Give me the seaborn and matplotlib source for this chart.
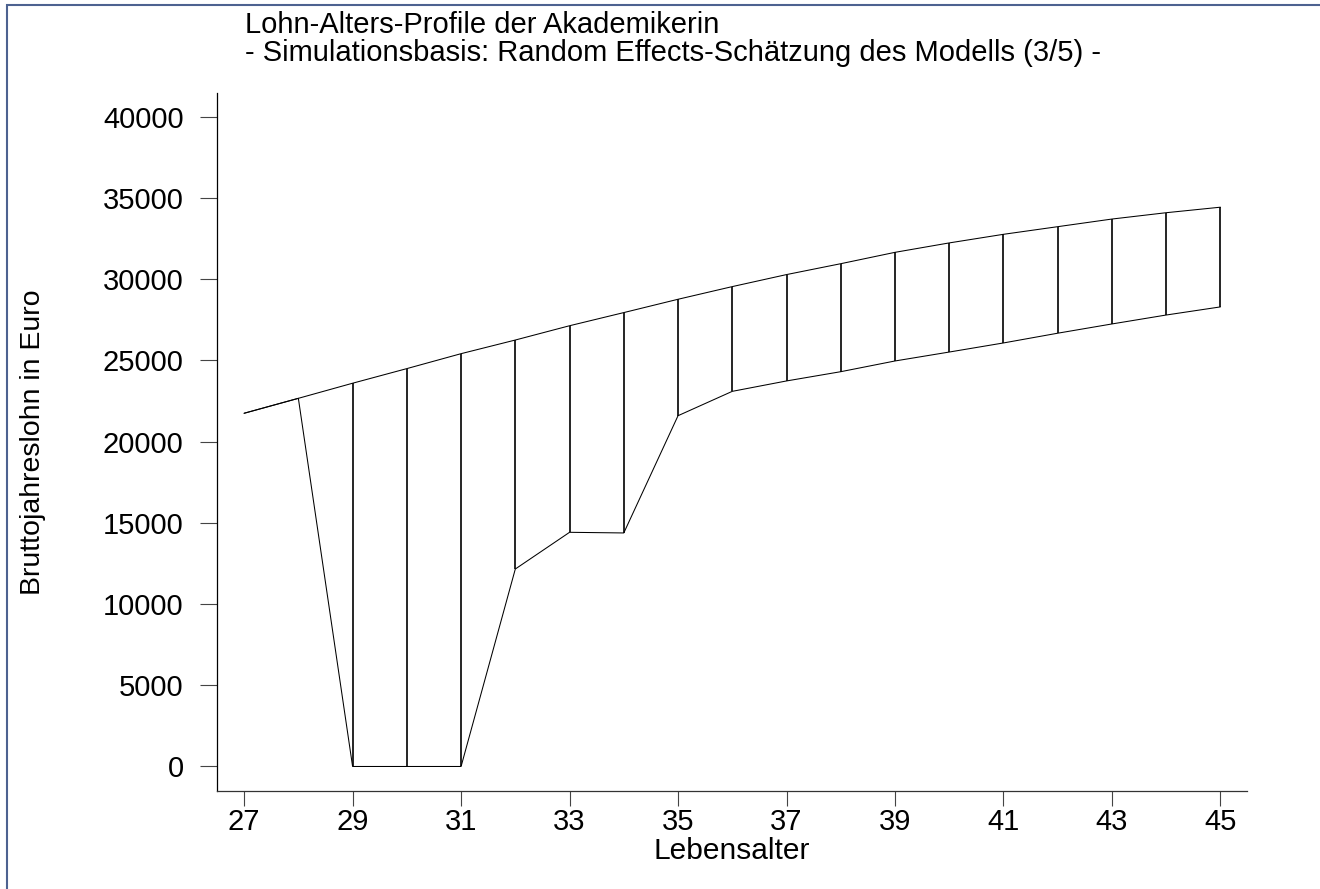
import matplotlib
matplotlib.use("Agg")
import matplotlib.pyplot as plt
from matplotlib.patches import Rectangle
import seaborn as sns
import pandas as pd

# ---- data ----
ages = [27, 28, 29, 30, 31, 32, 33, 34, 35, 36, 37, 38, 39, 40, 41, 42, 43, 44, 45]
upper = [21750, 22670, 23600, 24500, 25420, 26260, 27140, 27950, 28770, 29550,
         30290, 30960, 31660, 32240, 32770, 33240, 33710, 34100, 34440]
lower = [21750, 22670, 0, 0, 0, 12160, 14420, 14380, 21600, 23100,
         23740, 24310, 24970, 25520, 26080, 26680, 27250, 27800, 28300]
x_ticks = [27, 29, 31, 33, 35, 37, 39, 41, 43, 45]
y_ticks = [0, 5000, 10000, 15000, 20000, 25000, 30000, 35000, 40000]

title1 = "Lohn-Alters-Profile der Akademikerin"
title2 = "- Simulationsbasis: Random Effects-Schätzung des Modells (3/5) -"
xlabel = "Lebensalter"
ylabel = "Bruttojahreslohn in Euro"

df = pd.DataFrame({"age": ages, "upper": upper, "lower": lower})

sns.set_theme(style="white")
plt.rcParams["font.family"] = ["Liberation Sans", "DejaVu Sans"]

W, H = 1320, 889
fig = plt.figure(figsize=(W / 100, H / 100), dpi=100)
fig.patch.set_facecolor("white")
ax = fig.add_axes([217 / W, 1 - 791 / H, (1247 - 217) / W, (791 - 92.7) / H])
ax.set_facecolor("white")

# range spikes
ax.vlines(df["age"], df["lower"], df["upper"], color="black", linewidth=1.2, zorder=3)
# connecting lines
sns.lineplot(data=df, x="age", y="upper", ax=ax, color="black", linewidth=0.75,
             estimator=None, sort=False, zorder=2)
sns.lineplot(data=df, x="age", y="lower", ax=ax, color="black", linewidth=0.75,
             estimator=None, sort=False, zorder=2)

ax.set_xlim(26.5, 45.49)
ax.set_ylim(-1510, 41490)
ax.set_xticks(x_ticks)
ax.set_yticks(y_ticks)
ax.set_xticklabels([str(v) for v in x_ticks])
ax.set_yticklabels([str(v) for v in y_ticks])

for side in ["top", "right"]:
    ax.spines[side].set_visible(False)
ax.spines["left"].set_color("black")
ax.spines["left"].set_linewidth(0.9)
ax.spines["bottom"].set_color("#333333")
ax.spines["bottom"].set_linewidth(0.9)

ax.tick_params(axis="y", direction="out", length=12, width=0.8, color="#444444",
               pad=12, labelsize=21, labelcolor="black", left=True)
ax.tick_params(axis="x", direction="out", length=11, width=0.8, color="#444444",
               pad=1, labelsize=21, labelcolor="black", bottom=True)

ax.set_xlabel(xlabel, fontsize=21.5, color="black")
ax.set_ylabel(ylabel, fontsize=20.5, color="black")
ax.xaxis.set_label_coords(0.5, -0.066)
ax.yaxis.set_label_coords(-0.166, 0.5)

fig.text(245 / W, 1 - 33 / H, title1, fontsize=21, ha="left", va="baseline", color="black")
fig.text(245 / W, 1 - 61 / H, title2, fontsize=21, ha="left", va="baseline", color="black")

# outer frame
fig.patches.append(Rectangle((7 / W, -0.05), 1.1, 1 - 5 / H + 0.05, transform=fig.transFigure,
                             fill=False, edgecolor="#4d6290", linewidth=1.5, clip_on=False))

fig.savefig("out.png", dpi=100, facecolor="white")
